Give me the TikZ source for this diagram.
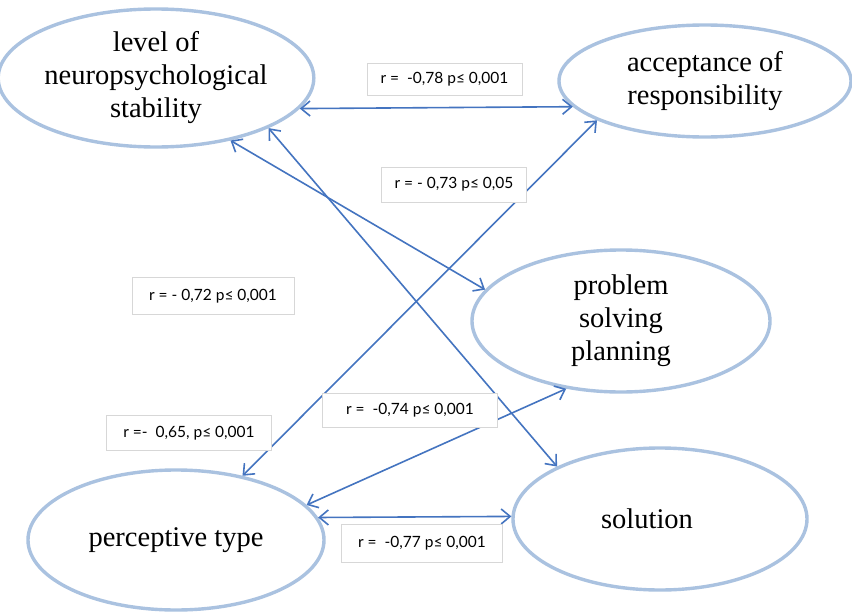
\documentclass[tikz,border=0pt]{standalone}
\usepackage{fontspec}
\setmainfont{Liberation Serif}
\newfontfamily\labfont{Lato}
\usetikzlibrary{shapes.geometric,arrows.meta}
\definecolor{ellcol}{RGB}{170,194,224}
\definecolor{arrcol}{RGB}{68,116,192}
\definecolor{boxcol}{RGB}{215,215,215}
\tikzset{
  ell/.style={ellipse, draw=ellcol, line width=3.4pt, inner sep=0pt, align=center,
    font=\fontsize{28.5}{33}\selectfont},
  rel/.style={draw=arrcol, line width=1.6pt, {Straight Barb[length=9pt,width=15pt]}-{Straight Barb[length=9pt,width=15pt]}},
  lab/.style={draw=boxcol, line width=0.8pt, fill=white, inner sep=0pt,
    font=\labfont\fontsize{15.5}{17}\selectfont}
}
\begin{document}
\begin{tikzpicture}[x=1pt,y=-1pt]
\useasboundingbox (0,0) rectangle (852,613);
\fill[white] (0,0) rectangle (852,613);

\node[ell, minimum width=300pt, minimum height=138pt] (e1) at (156,78) {level of\\neuropsychological\\stability};
\node[ell, minimum width=292pt, minimum height=112pt] (e2) at (705,81) {acceptance of\\responsibility};
\node[ell, minimum width=298pt, minimum height=142pt] (e3) at (621,321) {problem\\solving\\planning};
\node[ell, minimum width=296pt, minimum height=140pt] (e4) at (176,540) {perceptive type};
\node[ell, minimum width=294pt, minimum height=142pt] (e5) at (660,519) {\hspace*{-26pt}solution};

\draw[rel] (e1.-12.1) -- (e2.191.9);
\draw[rel] (e1.-40) -- (e3.167.7);
\draw[rel] (e1.-24.6) -- (e5.153.4);
\draw[rel] (e2.200.1) -- (e4.44.1);
\draw[rel] (e3.231.2) -- (e4.15.5);
\draw[rel] (e4.9.1) -- (e5.179.2);

\node[lab, minimum width=155pt, minimum height=32pt] (l1) at (444.5,79) {r =\ \ -0,78 p≤ 0,001};
\node[lab, minimum width=145pt, minimum height=35pt] (l2) at (454,184.5) {r = - 0,73 p≤ 0,05};
\node[lab, minimum width=162pt, minimum height=37pt] (l3) at (213,296) {r = - 0,72 p≤ 0,001};
\node[lab, minimum width=165pt, minimum height=35pt] (l4) at (189,433) {r =-\ \ 0,65, p≤ 0,001};
\node[lab, minimum width=175pt, minimum height=34pt] (l5) at (410,410) {r =\ \ -0,74 p≤ 0,001};
\node[lab, minimum width=161pt, minimum height=38pt] (l6) at (422,543) {r =\ \ -0,77 p≤ 0,001};
\end{tikzpicture}
\end{document}
